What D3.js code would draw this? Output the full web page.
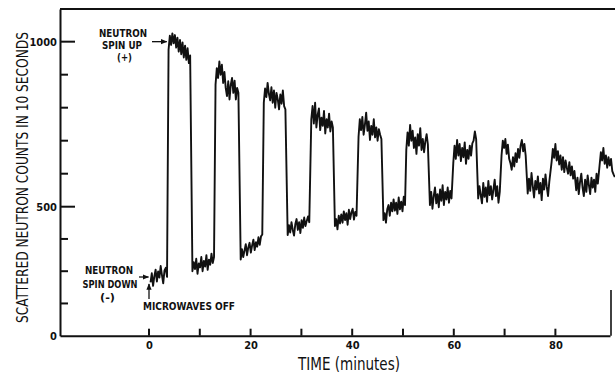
<!DOCTYPE html>
<html>
<head>
<meta charset="utf-8">
<script src="https://cdn.jsdelivr.net/npm/d3@7"></script>
<style>
  body { margin: 0; background: #fff; }
  svg { display: block; font-family: "DejaVu Sans Condensed", "DejaVu Sans", sans-serif; }
</style>
</head>
<body>
<svg id="chart" width="615" height="373"></svg>
<script>
// recorder trace: one reading every 0.25 min, one list per half-cycle
const step = 0.25;
const segStart = [0.3, 3.85, 8.55, 13.1, 18.05, 22.6, 27.3, 31.95, 36.6, 41.25,
                  46.15, 50.65, 55.3, 59.9, 64.8, 69.4, 74.55, 79.25, 84.1, 88.7];
const segCounts = [
  [207, 242, 193, 230, 256, 210, 249, 225, 270, 235, 203, 253, 263, 228],
  [975, 1018, 990, 1025, 995, 1020, 982, 1012, 970, 1005, 962, 998, 952, 988, 945, 980, 935, 958],
  [250, 285, 258, 298, 240, 280, 265, 305, 250, 290, 268, 312, 255, 295, 275, 318, 282, 305],
  [870, 920, 890, 940, 900, 930, 875, 908, 860, 835, 880, 825, 870, 890, 845, 882, 825, 860, 845],
  [295, 335, 305, 330, 355, 312, 342, 360, 322, 350, 372, 332, 362, 345, 382, 352, 385, 392],
  [815, 858, 832, 875, 842, 822, 862, 815, 852, 800, 845, 825, 795, 840, 812, 852, 805, 795],
  [390, 428, 400, 440, 410, 388, 432, 452, 410, 440, 398, 448, 418, 458, 425, 445, 462, 440],
  [765, 805, 752, 815, 740, 778, 798, 732, 770, 745, 790, 722, 765, 740, 782, 728, 758, 740],
  [425, 452, 412, 465, 435, 470, 438, 482, 448, 475, 430, 488, 452, 478, 492, 450, 480, 465],
  [712, 765, 732, 772, 718, 748, 785, 730, 758, 702, 745, 718, 765, 710, 740, 700, 735, 718, 705],
  [448, 475, 438, 490, 505, 465, 512, 482, 522, 485, 512, 472, 528, 490, 515, 482, 530, 505],
  [672, 725, 685, 748, 700, 730, 678, 710, 660, 720, 685, 738, 672, 705, 665, 698, 720, 688],
  [505, 545, 492, 532, 558, 510, 538, 498, 552, 518, 565, 505, 545, 522, 558, 512, 548, 525],
  [632, 685, 645, 702, 655, 690, 638, 678, 650, 695, 630, 672, 645, 685, 655, 692, 700, 728, 705],
  [525, 562, 535, 510, 572, 530, 558, 515, 578, 535, 562, 522, 552, 582, 532, 562, 512, 545],
  [655, 700, 678, 705, 660, 688, 645, 632, 612, 650, 622, 662, 635, 675, 648, 685, 702, 668, 690, 655],
  [540, 585, 548, 602, 562, 528, 578, 552, 592, 540, 572, 520, 585, 552, 598, 560, 532, 575],
  [635, 675, 648, 690, 640, 668, 628, 655, 612, 650, 605, 640, 618, 600, 635, 595, 622, 585, 608],
  [550, 588, 538, 575, 600, 558, 532, 582, 545, 595, 565, 538, 588, 558, 582, 545, 600, 570],
  [625, 665, 640, 678, 630, 655, 618, 650, 625, 645, 608, 598, 590]
];

const yTicks = [0, 125, 250, 375, 500, 600, 700, 800, 900, 1000];
const yLabels = [0, 500, 1000];
const xTicks = [0, 10, 20, 30, 40, 50, 60, 70, 80];
const xLabels = [0, 20, 40, 60, 80];

const svg = d3.select('#chart');
const plotLeft = 60, plotRight = 610, plotTop = 9, plotBottom = 335.7;
const ink = '#111';

const x = d3.scaleLinear().domain([-17.52, 90.75]).range([plotLeft, plotRight]);
// the drawn axis is squeezed below 500
const y = d3.scaleLinear().domain([0, 500, 1099]).range([plotBottom, 206.7, plotTop]);

// axes: labels + spine from d3, tick marks drawn inward below
svg.append('g')
  .attr('transform', `translate(${plotLeft},0)`)
  .call(d3.axisLeft(y).tickValues(yLabels).tickFormat(d3.format('d')).tickSize(0).tickPadding(3));
svg.append('g')
  .attr('transform', `translate(0,${plotBottom})`)
  .call(d3.axisBottom(x).tickValues(xLabels).tickFormat(d3.format('d')).tickSize(0).tickPadding(6));

svg.selectAll('.domain').attr('stroke', ink).attr('stroke-width', 2);
svg.selectAll('.tick text')
  .attr('fill', ink)
  .style('font-family', '"DejaVu Sans Condensed", "DejaVu Sans", sans-serif')
  .style('font-size', '11px')
  .style('font-weight', 'bold');

svg.append('g').selectAll('line')
  .data(yTicks.filter(d => d > 0))
  .join('line')
  .attr('x1', plotLeft)
  .attr('x2', d => plotLeft + ((d === 500 || d === 1000) ? 15 : 8))
  .attr('y1', d => y(d)).attr('y2', d => y(d))
  .attr('stroke', ink).attr('stroke-width', 2);

svg.append('g').selectAll('line')
  .data(xTicks)
  .join('line')
  .attr('x1', d => x(d)).attr('x2', d => x(d))
  .attr('y1', plotBottom).attr('y2', plotBottom - 7)
  .attr('stroke', ink).attr('stroke-width', 2);

// frame pieces
svg.append('line').attr('x1', plotLeft).attr('x2', 615).attr('y1', plotTop).attr('y2', plotTop)
  .attr('stroke', ink).attr('stroke-width', 2);
svg.append('line').attr('x1', 611).attr('x2', 611).attr('y1', 290).attr('y2', plotBottom)
  .attr('stroke', ink).attr('stroke-width', 1.6);

// trace
const pts = [];
segStart.forEach((s, i) => {
  segCounts[i].forEach((v, k) => pts.push({ t: s + k * step, v: v }));
});
const line = d3.line().x(d => x(d.t)).y(d => y(d.v));
svg.append('path')
  .datum(pts)
  .attr('d', line)
  .attr('fill', 'none')
  .attr('stroke', ink)
  .attr('stroke-width', 1.9)
  .attr('stroke-linejoin', 'round');

// axis titles
svg.append('text')
  .attr('transform', 'translate(28,177.5) rotate(-90)')
  .attr('text-anchor', 'middle')
  .attr('textLength', 291).attr('lengthAdjust', 'spacingAndGlyphs')
  .style('font-size', '15px')
  .attr('fill', ink)
  .text('SCATTERED NEUTRON COUNTS IN 10 SECONDS');

svg.append('text')
  .attr('x', 298).attr('y', 370)
  .attr('textLength', 102).attr('lengthAdjust', 'spacingAndGlyphs')
  .style('font-size', '17px')
  .attr('fill', ink)
  .text('TIME (minutes)');

// annotations
svg.append('defs').append('marker')
  .attr('id', 'head')
  .attr('viewBox', '0 0 10 10')
  .attr('refX', 9).attr('refY', 5)
  .attr('markerWidth', 5).attr('markerHeight', 5)
  .attr('orient', 'auto')
  .append('path').attr('d', 'M0,1L10,5L0,9Z').attr('fill', ink);

// one text block, one tspan per line: [text, centre x, baseline, width]
function note(lines, size) {
  const t = svg.append('text')
    .attr('text-anchor', 'middle')
    .style('font-size', size + 'px').style('font-weight', 'bold')
    .attr('fill', ink);
  lines.forEach(l => {
    t.append('tspan')
      .attr('x', l[1]).attr('y', l[2])
      .attr('textLength', l[3]).attr('lengthAdjust', 'spacingAndGlyphs')
      .text(l[0]);
  });
}
function arrow(x1, y1, x2, y2) {
  svg.append('line')
    .attr('x1', x1).attr('y1', y1).attr('x2', x2).attr('y2', y2)
    .attr('stroke', ink).attr('stroke-width', 1.3)
    .attr('marker-end', 'url(#head)');
}

note([['NEUTRON', 123, 37, 48], ['SPIN UP', 122, 48.8, 40], ['(+)', 124.5, 61, 15]], 10);
arrow(152, y(1000), x(3.5), y(1000));

note([['NEUTRON', 109, 274, 48], ['SPIN DOWN', 110, 288, 55], ['(-)', 107.5, 301, 15]], 11);
arrow(139, 277, x(-0.1), 277);

note([['MICROWAVES OFF', 189, 310, 92]], 11);
arrow(x(0), 299, x(0), 284);
</script>
</body>
</html>
